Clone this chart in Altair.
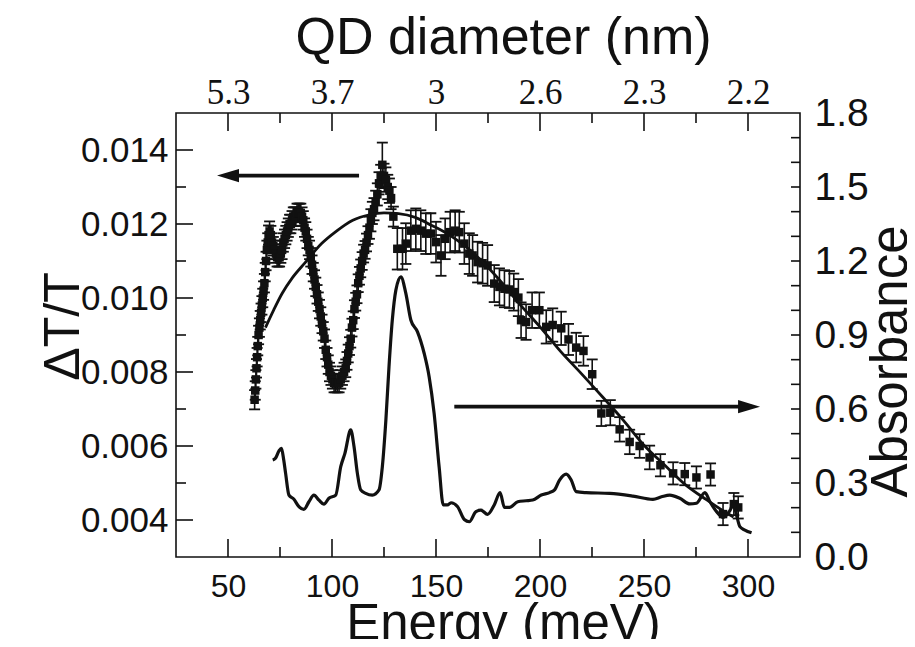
import altair as alt
import pandas as pd

# ---------------- data ----------------
# Delta T / T (left axis) vs energy (meV), with error bars
E_dt = [62.8, 63.1, 63.4, 63.7, 64.0, 64.3, 64.7, 65.1, 65.5, 65.9, 66.3, 66.7, 67.1, 67.5, 67.9,
        68.3, 68.7, 69.1, 69.5, 70.0,
        70.6, 71.2, 71.8, 72.4, 73.0, 73.6, 74.2, 74.8, 75.4, 76.0, 76.6, 77.2, 77.8, 78.4, 79.0,
        79.6, 80.2, 80.8, 81.4, 82.0, 82.6, 83.2, 83.8, 84.4, 85.0,
        85.6, 86.2, 86.8, 87.4, 88.0, 88.6, 89.2, 89.8, 90.4, 91.0, 91.6, 92.2, 92.8, 93.4, 94.0,
        94.6, 95.2, 95.8, 96.4, 97.0, 97.6, 98.2, 98.8, 99.5, 100.2, 101.0, 101.8, 102.6, 103.4,
        104.2, 105.0, 105.8,
        106.6, 107.2, 107.8, 108.4, 109.0, 109.6, 110.2, 110.8, 111.4, 112.0, 112.6, 113.2, 113.8,
        114.5, 115.2, 115.9, 116.6, 117.3, 118.0, 118.7, 119.4, 120.2, 121.0, 121.8, 122.6, 123.4,
        124.2,
        125.0, 125.9, 126.8, 127.6, 128.4, 129.5,
        131.4, 133.9, 135.5, 137.9, 140.3, 142.7, 145.1, 147.5, 150.0, 152.4, 154.4, 156.8, 159.2,
        161.2, 163.6, 166.0, 167.6, 170.0, 172.4, 174.8, 178.0, 180.5, 182.9, 185.3, 187.4, 189.6,
        190.9, 193.3, 196.2, 199.7, 203.0, 206.1, 210.2, 213.7, 217.4, 220.9, 225.1, 229.5, 233.8,
        238.3, 243.1, 247.9, 252.7, 257.9, 264.0, 269.6, 275.2, 282.0, 288.0, 293.2, 295.3]
dT = [0.00725, 0.0075, 0.0078, 0.0081, 0.0084, 0.0087, 0.0090, 0.0092, 0.0094, 0.0096, 0.0098,
      0.0100, 0.0102, 0.0104, 0.0107, 0.0110, 0.0113, 0.0115, 0.0117, 0.0118,
      0.0117, 0.0115, 0.0114, 0.0113, 0.0112, 0.0111, 0.0111, 0.0111, 0.0112, 0.0113, 0.0115,
      0.0116, 0.0117, 0.0118, 0.0119, 0.0120, 0.0120, 0.0121, 0.0122, 0.0122, 0.0122, 0.0123,
      0.0123, 0.0123, 0.0123,
      0.0122, 0.0121, 0.0119, 0.0118, 0.0116, 0.0114, 0.0113, 0.0111, 0.0109, 0.0107, 0.0105,
      0.0103, 0.0101, 0.0099, 0.0097, 0.0095, 0.0093, 0.0091, 0.0089, 0.0086, 0.0084, 0.0082,
      0.0080, 0.0079, 0.0078, 0.0077, 0.0077, 0.0077, 0.0077, 0.0078, 0.0079, 0.0080,
      0.0081, 0.0083, 0.0085, 0.0087, 0.0089, 0.0092, 0.0094, 0.0097, 0.0099, 0.0101, 0.0104,
      0.0106, 0.0108, 0.0110, 0.0112, 0.0113, 0.0115, 0.0117, 0.0119, 0.0121, 0.0123, 0.0124,
      0.0126, 0.0128, 0.0131, 0.0133, 0.0136,
      0.0133, 0.0132, 0.0130, 0.0129, 0.0127, 0.0122,
      0.01133, 0.01133, 0.01147, 0.01182, 0.01187, 0.01182, 0.01174, 0.01174, 0.01151, 0.01115,
      0.0116, 0.01178, 0.01182, 0.01178, 0.01147, 0.0112, 0.01115, 0.01097, 0.01094, 0.01088,
      0.01039, 0.0103, 0.01025, 0.01023, 0.01016, 0.01001, 0.0094, 0.00935, 0.00967, 0.00967,
      0.00922, 0.00927, 0.00918, 0.00888, 0.00866, 0.00857, 0.00794, 0.00688, 0.0069, 0.00645,
      0.00611, 0.006, 0.00569, 0.00548, 0.00526, 0.00524, 0.00515, 0.00523, 0.00416, 0.00443,
      0.00434]
dT_err = [
    0.00026, 0.00025, 0.00025, 0.00025, 0.00025, 0.00025, 0.00025, 0.00025, 0.00025, 0.00025,
    0.00025, 0.00025, 0.00025, 0.00025, 0.00025, 0.00025, 0.00025, 0.00025, 0.00026, 0.00027,
    0.00025, 0.00025, 0.00025, 0.00025, 0.00025, 0.00025, 0.00025, 0.00025, 0.00025, 0.00025,
    0.00025, 0.00025, 0.00025, 0.00025, 0.00025, 0.00025, 0.00025, 0.00025, 0.00025, 0.00025,
    0.00025, 0.00025, 0.00025, 0.00025, 0.00025,
    0.00025, 0.00025, 0.00025, 0.00025, 0.00025, 0.00025, 0.00025, 0.00025, 0.00025, 0.00025,
    0.00025, 0.00025, 0.00025, 0.00025, 0.00025, 0.00025, 0.00025, 0.00025, 0.00025, 0.00025,
    0.00025, 0.00025, 0.00025, 0.00025, 0.00025, 0.00025, 0.00025, 0.00025, 0.00025, 0.00025,
    0.00025, 0.00025,
    0.00024, 0.00024, 0.00024, 0.00024, 0.00024, 0.00024, 0.00024, 0.00024, 0.00024, 0.00024,
    0.00024, 0.00024, 0.00024, 0.00024, 0.00024, 0.00024, 0.00024, 0.00024, 0.0003, 0.0003,
    0.0003, 0.0003, 0.0003, 0.0003, 0.0003, 0.0003,
    0.0006,
    0.00033, 0.00033, 0.00033, 0.00033, 0.00030, 0.00027,
    0.00056, 0.00056, 0.00055, 0.00055, 0.00055, 0.00055, 0.00055, 0.00055, 0.00055, 0.00055,
    0.00055, 0.00055, 0.00055, 0.00055, 0.00055, 0.00055, 0.00055, 0.00055, 0.00055, 0.00055,
    0.0005, 0.0005, 0.0005, 0.0005, 0.0005, 0.0005, 0.00048, 0.00048, 0.00048, 0.00048,
    0.00045, 0.00045, 0.00045, 0.00042, 0.0004, 0.0004, 0.0004, 0.00034, 0.00034, 0.00033,
    0.00033, 0.00032, 0.00032, 0.0003, 0.0003, 0.0003, 0.0003, 0.0003, 0.0003, 0.0003, 0.0003]

# fitted curve (left axis)
E_fit = [68, 72, 76, 81, 87, 95, 102, 110, 118, 125, 132, 140, 148, 156, 164, 172, 180, 190,
         200, 210, 220, 230, 240, 250, 260, 270, 280, 288, 293]
fit = [0.00920, 0.00968, 0.01012, 0.01055, 0.01095, 0.01147, 0.01180, 0.01210, 0.01225, 0.01230,
       0.01228, 0.01218, 0.01196, 0.01172, 0.01140, 0.01100, 0.01052, 0.00985, 0.00922, 0.00855,
       0.00795, 0.00733, 0.00670, 0.00602, 0.00548, 0.00495, 0.00455, 0.00425, 0.00408]

# absorbance spectrum (right axis)
E_abs = [71.5, 72.8, 74.5, 75.7, 76.8, 77.7, 79.3, 81.7, 84.1, 86.5, 88.9, 91.3, 93.7, 96.1, 98.5,
         101.8, 104.2, 106.2, 109.0, 110.6, 112.2, 113.8, 116.2, 119.4, 122.6, 124.2, 125.9, 127.4,
         129.0, 130.7, 133.1, 135.5, 137.9, 141.1, 144.3, 146.7, 149.1, 151.5, 153.5, 155.5, 157.2,
         160.4, 163.6, 166.0, 169.2, 171.6, 174.8, 178.0, 180.8, 182.9, 185.3, 189.3, 193.3, 196.5,
         200.6, 204.6, 207.0, 209.4, 212.6, 215.0, 217.4, 222.2, 233.5, 244.7, 254.3, 258.4, 262.4,
         267.2, 272.0, 275.2, 279.3, 281.7, 284.9, 288.0, 291.3, 293.2, 294.5, 296.1, 298.5, 301.7]
absorb = [0.393, 0.40, 0.43, 0.44, 0.393, 0.339, 0.251, 0.234, 0.204, 0.193, 0.224, 0.251, 0.231,
          0.214, 0.238, 0.251, 0.366, 0.42, 0.515, 0.447, 0.339, 0.272, 0.258, 0.251, 0.272, 0.366,
          0.555, 0.771, 0.961, 1.082, 1.136, 1.069, 0.961, 0.913, 0.826, 0.731, 0.582, 0.366, 0.211,
          0.211, 0.22, 0.204, 0.152, 0.143, 0.184, 0.19, 0.173, 0.211, 0.261, 0.201, 0.201, 0.224,
          0.228, 0.231, 0.251, 0.261, 0.272, 0.312, 0.336, 0.312, 0.265, 0.261, 0.258, 0.247, 0.234,
          0.244, 0.251, 0.238, 0.215, 0.218, 0.261, 0.224, 0.184, 0.161, 0.188, 0.218, 0.17, 0.123,
          0.109, 0.098]

# axes
x_labels = [50, 100, 150, 200, 250, 300]
x_minor = [75, 125, 175, 225, 275]
qd_diam = ["5.3", "3.7", "3", "2.6", "2.3", "2.2"]
left_labels = [0.004, 0.006, 0.008, 0.010, 0.012, 0.014]
left_minor = [0.005, 0.007, 0.009, 0.011, 0.013]
right_labels = [0.0, 0.3, 0.6, 0.9, 1.2, 1.5, 1.8]
right_ticks = [0.1, 0.2, 0.3, 0.4, 0.5, 0.6, 0.7, 0.8, 0.9, 1.0, 1.1, 1.2, 1.3, 1.4, 1.5, 1.6, 1.7]

# arrows (annotations, data coordinates)
arrow_left_tip, arrow_left_tail, arrow_left_y = 44.7, 113.0, 0.01331
arrow_right_tail, arrow_right_tip, arrow_right_y = 158.8, 305.8, 0.6095

# ---------------- chart ----------------
W, H = 624, 444
SANS = "Liberation Sans"
SERIF = "Liberation Serif"
INK = "#111111"

xs = alt.Scale(domain=[25, 325], nice=False, zero=False)
ysl = alt.Scale(domain=[0.003, 0.015], nice=False, zero=False)
ysr = alt.Scale(domain=[0.0, 1.8], nice=False, zero=False)

common = dict(ticks=False, tickSize=0, domain=False, grid=False, labelColor=INK, titleColor=INK,
              titleFontWeight="normal", labelOverlap=False, labelFlush=False)

ax_bottom = alt.Axis(orient="bottom", values=x_labels, format="d", title="Energy (meV)",
                     labelFont=SANS, labelFontSize=32, labelBaseline="alphabetic", labelPadding=39,
                     titleFont=SANS, titleFontSize=51, titleX=327, titleY=82,
                     titleBaseline="alphabetic", titleAlign="center", titleAngle=0, **common)
expr = " : ".join(f"datum.value == {v} ? '{d}'" for v, d in zip(x_labels, qd_diam)) + " : ''"
ax_top = alt.Axis(orient="top", values=x_labels, labelExpr=expr, title="QD diameter (nm)",
                  labelFont=SERIF, labelFontSize=35, labelBaseline="alphabetic", labelPadding=10,
                  titleFont=SANS, titleFontSize=52, titleX=327, titleY=-60,
                  titleBaseline="alphabetic", titleAlign="center", titleAngle=0, **common)
ax_left = alt.Axis(orient="left", values=left_labels, format=".3f", title="ΔT/T",
                   labelFont=SANS, labelFontSize=35, labelPadding=8,
                   titleFont=SANS, titleFontSize=50, titleX=-98, titleY=213, titleAngle=270,
                   titleBaseline="alphabetic", titleAlign="center", **common)
ax_right = alt.Axis(orient="right", values=right_labels, format=".1f", title="Absorbance",
                    labelFont=SANS, labelFontSize=39, labelPadding=14,
                    titleFont=SANS, titleFontSize=51, titleX=106, titleY=248, titleAngle=270,
                    titleBaseline="alphabetic", titleAlign="center", **common)


def xL(f):
    return alt.X(f, type="quantitative", scale=xs, axis=ax_bottom)


def yL(f):
    return alt.Y(f, type="quantitative", scale=ysl, axis=ax_left)


def xR(f):
    return alt.X(f, type="quantitative", scale=xs, axis=ax_top)


def yR(f):
    return alt.Y(f, type="quantitative", scale=ysr, axis=ax_right)


df_dt = pd.DataFrame({"E": E_dt, "v": dT, "err": dT_err})
df_dt["lo"] = df_dt["v"] - df_dt["err"]
df_dt["hi"] = df_dt["v"] + df_dt["err"]
base_dt = alt.Chart(df_dt)

err_rules = base_dt.mark_rule(color=INK, strokeWidth=1.6).encode(x=xL("E"), y=yL("lo"), y2="hi")
caps = base_dt.transform_fold(["lo", "hi"], as_=["k", "cap"]).mark_tick(
    color=INK, orient="horizontal", size=11, thickness=1.8, opacity=1).encode(x=xL("E"), y=yL("cap"))
squares = base_dt.mark_square(size=72, color=INK, opacity=1).encode(x=xL("E"), y=yL("v"))

fit_line = alt.Chart(pd.DataFrame({"E": E_fit, "v": fit})).mark_line(
    color=INK, strokeWidth=2.8, interpolate="monotone").encode(x=xL("E"), y=yL("v"))

df_xmaj = pd.DataFrame({"E": x_labels})
df_xmin = pd.DataFrame({"E": x_minor})
xt = []
for d, ln in ((df_xmaj, 18), (df_xmin, 10)):
    xt.append(alt.Chart(d).mark_rule(color=INK, strokeWidth=1.6).encode(
        x=xL("E"), y=alt.value(H), y2=alt.value(H - ln)))
    xt.append(alt.Chart(d).mark_rule(color=INK, strokeWidth=1.6).encode(
        x=xL("E"), y=alt.value(0), y2=alt.value(ln)))
lt = []
for d, ln in ((pd.DataFrame({"v": left_labels}), 17), (pd.DataFrame({"v": left_minor}), 10)):
    lt.append(alt.Chart(d).mark_rule(color=INK, strokeWidth=1.6).encode(
        y=yL("v"), x=alt.value(0), x2=alt.value(ln)))

head_l = "M -1 0 L 1 -0.6 L 1 0.6 Z"
head_r = "M 1 0 L -1 -0.6 L -1 0.6 Z"
df_al = pd.DataFrame({"x1": [arrow_left_tip + 4], "x2": [arrow_left_tail], "tip": [arrow_left_tip],
                      "y": [arrow_left_y]})
arrow_l_shaft = alt.Chart(df_al).mark_rule(color=INK, strokeWidth=3.8).encode(
    x=xL("x1"), x2="x2", y=yL("y"))
arrow_l_head = alt.Chart(df_al).mark_point(shape=head_l, size=484, filled=True, color=INK,
                                           opacity=1, strokeWidth=0, xOffset=11).encode(
    x=xL("tip"), y=yL("y"))

left_group = alt.layer(*xt, *lt, err_rules, caps, squares, fit_line, arrow_l_shaft, arrow_l_head)

df_abs = pd.DataFrame({"E": E_abs, "a": absorb})
abs_line = alt.Chart(df_abs).mark_line(color=INK, strokeWidth=3.2, interpolate="monotone").encode(
    x=xR("E"), y=yR("a"))
rt = alt.Chart(pd.DataFrame({"a": right_ticks})).mark_rule(color=INK, strokeWidth=1.6).encode(
    y=yR("a"), x=alt.value(W), x2=alt.value(W - 9))
df_ar = pd.DataFrame({"x1": [arrow_right_tail], "x2": [arrow_right_tip - 4], "tip": [arrow_right_tip],
                      "y": [arrow_right_y]})
arrow_r_shaft = alt.Chart(df_ar).mark_rule(color=INK, strokeWidth=3.8).encode(
    x=xR("x1"), x2="x2", y=yR("y"))
arrow_r_head = alt.Chart(df_ar).mark_point(shape=head_r, size=484, filled=True, color=INK,
                                           opacity=1, strokeWidth=0, xOffset=-11).encode(
    x=xR("tip"), y=yR("y"))
right_group = alt.layer(abs_line, rt, arrow_r_shaft, arrow_r_head)

chart = alt.layer(left_group, right_group).resolve_scale(
    x="independent", y="independent"
).properties(
    width=W, height=H,
    padding={"left": 168, "top": 105, "right": 107, "bottom": 82},
    autosize=alt.AutoSizeParams(type="none"),
    background="white",
).configure_view(stroke=INK, strokeWidth=1.6)

chart.save("out.html", embed_options={"renderer": "svg", "actions": False})
